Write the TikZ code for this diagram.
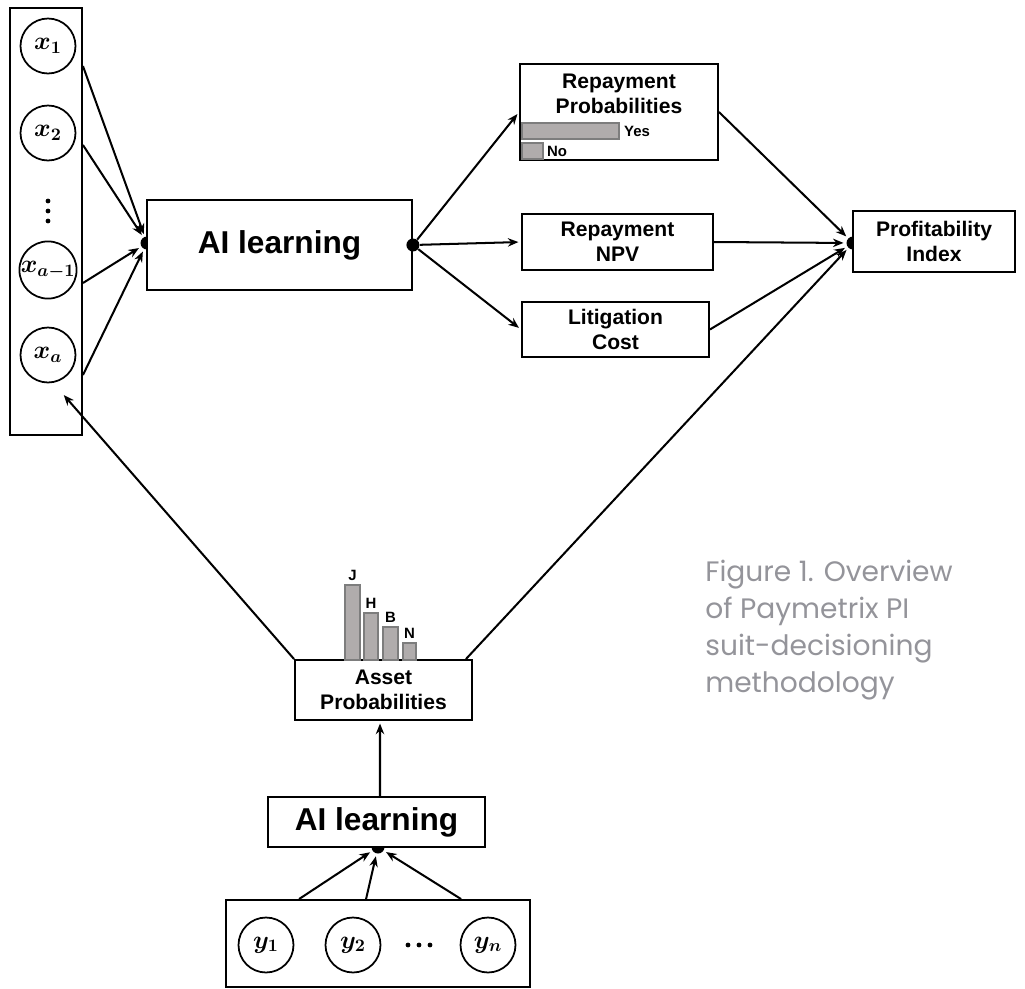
\documentclass[tikz,border=0pt]{standalone}
\usepackage{amsmath}
\usepackage{fontspec}
\setmainfont{Liberation Sans}
\newfontfamily\capfont{Poppins}
\usetikzlibrary{calc,positioning,arrows.meta}
\definecolor{bargray}{RGB}{176,172,172}
\definecolor{baredge}{RGB}{125,125,125}
\definecolor{capgray}{RGB}{148,148,154}
\tikzset{every picture/.style={>={Stealth[length=6pt,width=4.8pt]}},
  box/.style={draw,line width=1.1pt,fill=white,inner sep=0pt,align=center,font=\bfseries\fontsize{12}{14}\selectfont},
  var/.style={draw,circle,line width=1pt,fill=white,inner sep=0pt,minimum size=1.1cm,font=\fontsize{14}{16}\selectfont},
  dot/.style={circle,fill=black,inner sep=0pt,minimum size=0.26cm},
  bar/.style={fill=bargray,draw=baredge,line width=0.6pt},
  tick/.style={font=\bfseries\fontsize{8.5}{9}\selectfont,inner sep=1pt},
  link/.style={->,line width=1.15pt,shorten >=1.5pt}}

\begin{document}
\begin{tikzpicture}[x=0.02cm,y=-0.02cm]
  \useasboundingbox (0,0) rectangle (1025,988);
  \node[dot] (d1) at (147,243) {};
  \node[dot] (d3) at (853,243) {};
  \node[dot] (d4) at (378,847) {};
  \node[box,minimum width=1.44cm,minimum height=8.54cm] (xbox) at (46,221.5) {};
  \node[var] (x1) at (48,46) {$\boldsymbol{x_1}$};
  \node[var] (x2) at (48,133) {$\boldsymbol{x_2}$};
  \foreach \k in {-1,0,1}
    \fill (48,211+10*\k) circle (2.4);
  \node[var] (xa1) at (48,270) {$\boldsymbol{x_{a-1}}$};
  \node[var] (xa) at (48,355) {$\boldsymbol{x_a}$};
  \coordinate (xin) at (62,393);
  \node[box,minimum width=5.3cm,minimum height=1.8cm,font=\bfseries\fontsize{18}{20}\selectfont] (ai1) at (279.5,245) {AI learning};
  \node[dot] (d2) at (ai1.east) {};
  \node[box,minimum width=3.96cm,minimum height=1.92cm] (rp) at (619,112) {};
  \node[font=\bfseries\fontsize{12}{14}\selectfont,align=center] (rpt) at (619,94) {Repayment\\Probabilities};
  \draw[bar] (522,123) rectangle (619,139);
  \draw[bar] (522,143) rectangle (543,159);
  \node[tick,anchor=west] (yes) at (622,131) {Yes};
  \node[tick,anchor=west] (no) at (545,151.5) {No};
  \node[box,minimum width=3.82cm,minimum height=1.12cm] (npv) at (617.5,242) {Repayment\\NPV};
  \node[box,minimum width=3.74cm,minimum height=1.1cm] (lc) at (615.5,329.5) {Litigation\\Cost};
  \node[box,minimum width=3.24cm,minimum height=1.22cm] (pi) at (934,241.5) {Profitability\\Index};
  \node[box,minimum width=3.54cm,minimum height=1.2cm] (ap) at (383.5,690) {Asset\\Probabilities};
  \draw[bar] (345,585) rectangle (360,660);
  \draw[bar] (364,613) rectangle (378,660);
  \draw[bar] (383,627) rectangle (398,660);
  \draw[bar] (403,643) rectangle (416,660);
  \node[tick,anchor=south] (j) at (352.5,583) {J};
  \node[tick,anchor=south] (h) at (371,611) {H};
  \node[tick,anchor=south] (b) at (390.5,625) {B};
  \node[tick,anchor=south] (n) at (409.5,641) {N};
  \node[box,minimum width=4.34cm,minimum height=1.0cm,font=\bfseries\fontsize{18}{20}\selectfont] (ai2) at (376.5,822) {AI learning};
  \node[box,minimum width=6.08cm,minimum height=1.74cm] (ybox) at (378,943.5) {};
  \node[var] (y1) at (266,945) {$\boldsymbol{y_1}$};
  \node[var] (y2) at (353,945) {$\boldsymbol{y_2}$};
  \foreach \k in {-1,0,1}
    \fill (419+11*\k,945) circle (2.4);
  \node[var] (yn) at (488,945) {$\boldsymbol{y_n}$};
  \node[anchor=north west,inner sep=0pt,align=left,text=capgray,font=\capfont\fontsize{16}{21}\selectfont] (cap) at (705,560) {Figure 1. Overview\\of Paymetrix PI\\suit-decisioning\\methodology};
  \draw[link] (xbox.east |- x1.south east) -- (d1);
  \draw[link] ($(xbox.east |- x2)+(0,12)$) -- (d1);
  \draw[link] ($(xbox.east |- xa1)+(0,13)$) -- (d1);
  \draw[link] ($(xbox.east |- xa)+(0,20)$) -- (d1);
  \draw[link] (d2) -- (rp.west);
  \draw[link] (d2) -- (npv.west);
  \draw[link] (d2) -- (lc.west);
  \draw[link] (rp.east) -- (d3);
  \draw[link] (npv.east) -- (d3);
  \draw[link] (lc.east) -- (d3);
  \draw[link] ($(ap.north east)+(-7,0)$) -- (d3);
  \draw[link] (ap.north west) -- (xin);
  \draw[link] ($(ai2.north)+(3.5,0)$) -- ($(ap.south)+(-3.5,0)$);
  \draw[link] ($(ybox.north west)+(74,0)$) -- (d4);
  \draw[link] ($(ybox.north west)+(141,0)$) -- (d4);
  \draw[link] ($(ybox.north west)+(236,0)$) -- (d4);
\end{tikzpicture}
\end{document}
